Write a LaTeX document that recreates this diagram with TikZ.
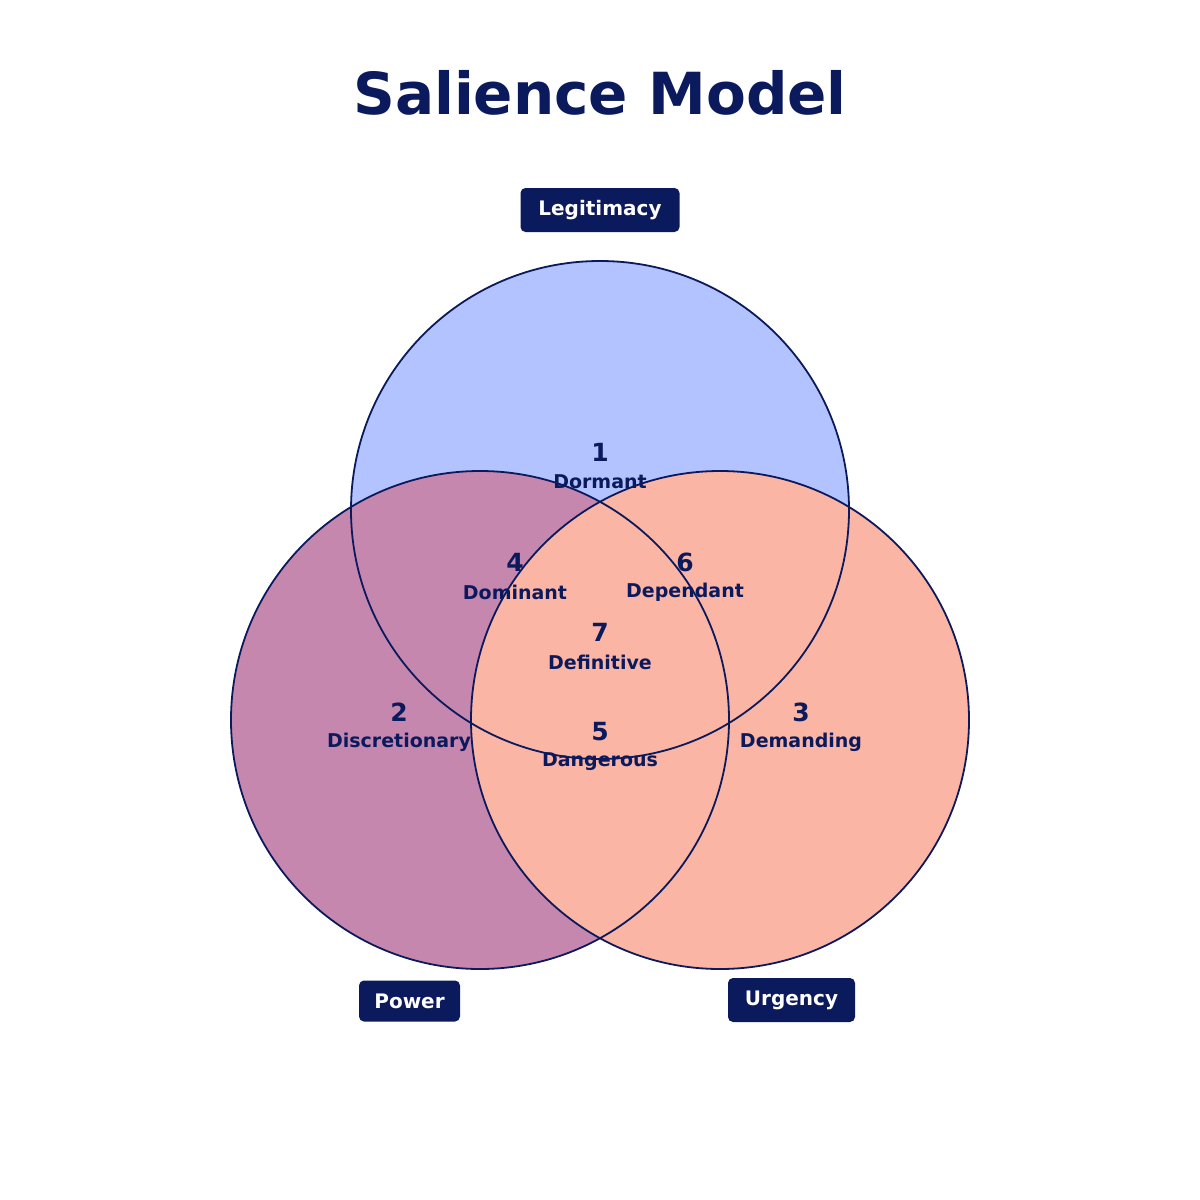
\documentclass[tikz,border=0pt]{standalone}
\usepackage{fontspec}
\setmainfont{DejaVu Sans}
\definecolor{navy}{HTML}{0B1A5C}
\definecolor{cblue}{HTML}{B3C3FF}
\definecolor{cpurple}{HTML}{C687AF}
\definecolor{csalmon}{HTML}{FBB5A5}
\begin{document}
\begin{tikzpicture}[x=1pt,y=-1pt,
  num/.style={font=\bfseries\fontsize{25}{25}\selectfont,text=navy},
  lab/.style={font=\bfseries\fontsize{19}{19}\selectfont,text=navy},
  tag/.style={fill=navy,rounded corners=5pt,text=white,font=\bfseries\fontsize{20}{20}\selectfont,minimum height=44pt,inner xsep=12pt}]
\useasboundingbox (0,0) rectangle (1200,1200);
\node[font=\bfseries\fontsize{58}{58}\selectfont,text=navy] (title) at (600,93) {Salience Model};
\fill[cblue] (600,510) circle (249);
\fill[cpurple] (480,720) circle (249);
\fill[csalmon] (720,720) circle (249);
\begin{scope}[draw=navy,line width=1.8pt]
\draw (600,510) circle (249);
\draw (480,720) circle (249);
\draw (720,720) circle (249);
\end{scope}
\node[num] (n1) at (600,452) {1}; \node[lab] (l1) at (600,482) {Dormant};
\node[num] (n2) at (399,712) {2}; \node[lab] (l2) at (399,742) {Discretionary};
\node[num] (n3) at (801,712) {3}; \node[lab] (l3) at (801,742) {Demanding};
\node[num] (n4) at (515,562) {4}; \node[lab] (l4) at (515,592) {Dominant};
\node[num] (n6) at (685,562) {6}; \node[lab] (l6) at (685,592) {Dependant};
\node[num] (n7) at (600,632) {7}; \node[lab] (l7) at (600,662) {Definitive};
\node[num] (n5) at (600,732) {5}; \node[lab] (l5) at (600,762) {Dangerous};
\node[tag,minimum width=159pt] (tL) at (600,210) {Legitimacy};
\node[tag,minimum width=101pt,minimum height=41pt] (tP) at (409.5,1001) {Power};
\node[tag,minimum width=127pt] (tU) at (791.5,1000) {Urgency};
\end{tikzpicture}
\end{document}
